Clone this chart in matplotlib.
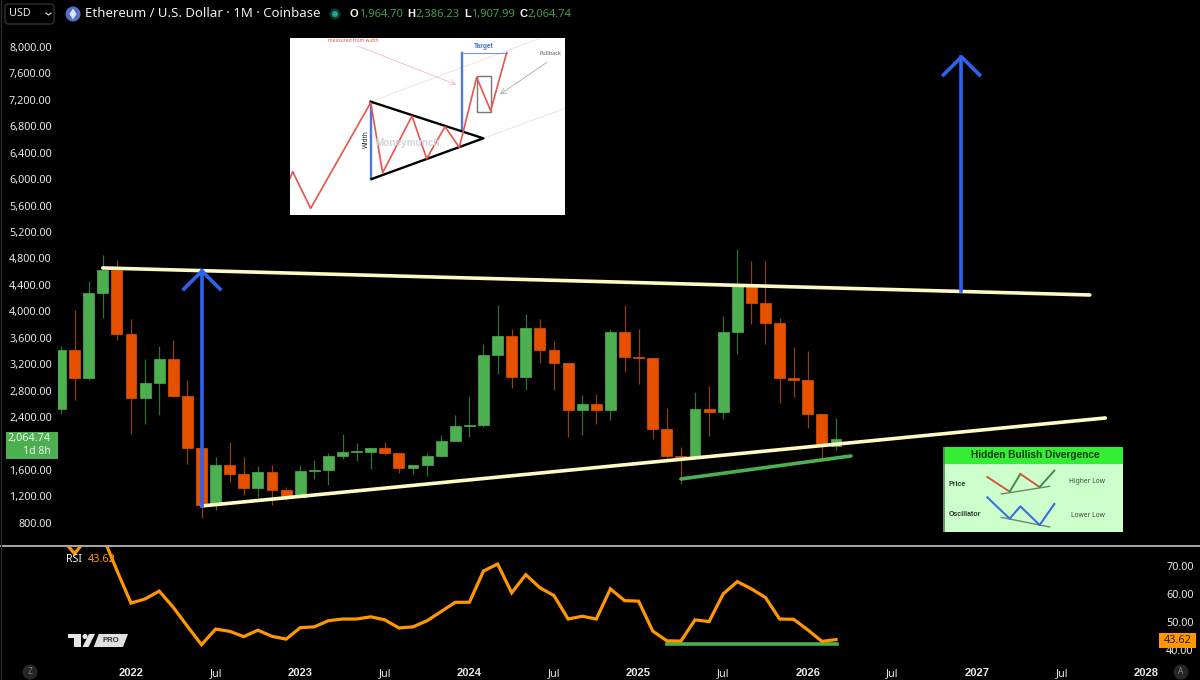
#!/usr/bin/env python3
# -*- coding: utf-8 -*-
import numpy as np
import matplotlib
matplotlib.use("Agg")
import matplotlib.pyplot as plt
from matplotlib.patches import Rectangle, Polygon, Circle, FancyBboxPatch

plt.rcParams['font.family'] = ['Noto Sans', 'DejaVu Sans']

# monthly candles, month 0 = Jan 2022
first_month = -5
opens = [2525, 3423, 2994, 4280, 4624,
         3665, 2682, 2919, 3277, 2717, 1930, 1067, 1683, 1546, 1320, 1567, 1294,
         1188, 1582, 1607, 1810, 1870, 1870, 1930, 1850, 1637, 1668, 1809, 2046,
         2273, 2278, 3337, 3630, 3005, 3746, 3423, 3221, 2505, 2596, 2505, 3695,
         3312, 3292, 2222, 1809, 1789, 2525, 2475, 3685, 4381, 4134, 3826, 2989,
         2959, 2444, 1964.70]
closes = [3423, 2994, 4280, 4624, 3665,
          2682, 2919, 3277, 2717, 1930, 1067, 1683, 1546, 1320, 1567, 1294, 1188,
          1582, 1607, 1819, 1870, 1880, 1930, 1850, 1637, 1668, 1809, 2046, 2273,
          2278, 3337, 3630, 3005, 3746, 3423, 3221, 2505, 2596, 2505, 3695, 3312,
          3292, 2222, 1809, 1789, 2525, 2475, 3685, 4381, 4134, 3826, 2989, 2959,
          2444, 1960, 2064.74]
highs = [3473, 4018, 4452, 4855, 4775,
         3887, 3277, 3473, 3574, 2969, 1930, 1789, 2031, 1789, 1657, 1673, 1345,
         1683, 1748, 1859, 2142, 2015, 1930, 2031, 1850, 1668, 1859, 2127, 2439,
         2717, 3504, 4089, 3726, 3958, 3877, 3554, 3221, 2732, 2757, 3726, 4099,
         3736, 3292, 2535, 1950, 2787, 2878, 3927, 4936, 4765, 4755, 3907, 3463,
         3398, 2444, 2386.23]
lows = [2444, 2656, 2969, 3907, 3564,
        2152, 2303, 2439, 2700, 1698, 881, 1002, 1425, 1219, 1193, 1067, 1153,
        1188, 1470, 1370, 1760, 1733, 1622, 1825, 1547, 1537, 1516, 1789, 2046,
        2101, 2243, 3045, 2838, 2808, 3226, 2808, 2101, 2132, 2303, 2354, 3090,
        2908, 2071, 1780, 1395, 1770, 2112, 2374, 3352, 3816, 3504, 2616, 2707,
        2228, 1773, 1907.99]

rsi = [80.4, 74.4, 80.8, 80.7, 68.4,
       56.7, 58.2, 61.0, 55.2, 48.4, 41.8, 47.4, 46.6, 44.7, 47.0, 44.8, 43.8,
       47.9, 48.2, 50.4, 51.0, 51.0, 51.8, 50.7, 47.8, 48.2, 50.4, 53.7, 57.0,
       57.0, 68.2, 70.7, 60.4, 66.9, 62.2, 59.4, 51.0, 52.0, 51.0, 61.8, 57.6,
       57.4, 46.7, 43.2, 43.1, 50.7, 50.1, 60.0, 64.4, 61.8, 58.7, 51.0, 50.9,
       47.1, 43.0, 43.62]

price_ticks = [800, 1200, 1600, 2400, 2800, 3200, 3600, 4000, 4400, 4800, 5200,
               5600, 6000, 6400, 6800, 7200, 7600, 8000]
rsi_ticks = [40, 50, 60, 70]
time_ticks = [0, 6, 12, 18, 24, 30, 36, 42, 48, 54, 60, 66, 72]
time_labels = ['2022', 'Jul', '2023', 'Jul', '2024', 'Jul', '2025', 'Jul', '2026',
               'Jul', '2027', 'Jul', '2028']

# drawings on the chart
upper_x = [-2, 68]
upper_price = [4657, 4248]
lower_x = [5.03, 69.1]
lower_price = [1056, 2387]
support_x = [39, 51.06]
support_price = [1464, 1812]
arrow1_x = 5.03
arrow1_price = [1056, 4610]
arrow2_x = 58.9
arrow2_price = [4310, 7850]
rsi_line_x = [38, 50.1]
rsi_line_val = [42.2, 42.2]

# pattern sketch inset (in its own pixel grid)
zig_x = [30, 38, 92, 272, 308, 396, 440, 495, 538, 590, 632, 680]
zig_y = [445, 425, 535, 218, 428, 258, 386, 290, 352, 142, 242, 68]

# hidden divergence inset
price_x = [173, 240, 272, 330, 374]
price_y = [112, 156, 103, 142, 93]
osc_x = [173, 240, 272, 330, 374]
osc_y = [173, 237, 200, 256, 193]

GREEN = '#4CAF50'
ORANGE = '#E65100'
GREEN_WICK = '#2F6F33'
ORANGE_WICK = '#8F3F0C'
CREAM = '#FFF9C4'
BLUE = '#2F62EE'
RSI_COL = '#FF9800'
TXT = '#E8E8E8'
BOLD = 'Liberation Sans'

W, H = 1200, 680
fig = plt.figure(figsize=(12, 6.8), dpi=100, facecolor='black')


def px_axes(x0, y0, x1, y1, **kw):
    return fig.add_axes([x0 / W, 1 - y1 / H, (x1 - x0) / W, (y1 - y0) / H], **kw)


def x_limits(left, right):
    return (left - 131) / 14.1, (right - 131) / 14.1


# price pane
ax = px_axes(58, 30, 1155, 546, facecolor='black')
ax.set_xlim(x_limits(58, 1155))
ax.set_ylim(450, 8257)
months = np.arange(len(opens)) + first_month
o = np.array(opens)
c = np.array(closes)
up = c >= o
ax.vlines(months[up], np.array(lows)[up], np.array(highs)[up], color=GREEN_WICK, lw=0.9, zorder=2)
ax.vlines(months[~up], np.array(lows)[~up], np.array(highs)[~up], color=ORANGE_WICK, lw=0.9, zorder=2)
ax.bar(months[up], (c - o)[up], bottom=o[up], width=0.78, color=GREEN, edgecolor=GREEN, lw=0.5, zorder=3)
ax.bar(months[~up], (c - o)[~up], bottom=o[~up], width=0.78, color=ORANGE, edgecolor=ORANGE, lw=0.5, zorder=3)

ax.plot(upper_x, upper_price, color=CREAM, lw=2.6, zorder=4, solid_capstyle='round')
ax.plot(lower_x, lower_price, color=CREAM, lw=2.6, zorder=4, solid_capstyle='round')
ax.plot(support_x, support_price, color=GREEN, lw=2.6, zorder=4, solid_capstyle='round')

for ax_x, ax_p in [(arrow1_x, arrow1_price), (arrow2_x, arrow2_price)]:
    ax.plot([ax_x, ax_x], ax_p, color=BLUE, lw=2.6, zorder=5)
    ax.plot([ax_x - 1.28, ax_x, ax_x + 1.28], [ax_p[1] - 272, ax_p[1], ax_p[1] - 272],
            color=BLUE, lw=2.6, zorder=5)

ax.set_yticks(price_ticks)
ax.set_yticklabels([f'{v:,.2f}' for v in price_ticks])
ax.tick_params(axis='y', length=0, pad=4.5, labelsize=7.8, labelcolor=TXT)
ax.set_xticks([])
for s in ax.spines.values():
    s.set_visible(False)

# rsi pane
ax2 = px_axes(58, 547, 1155, 657, facecolor='black')
ax2.set_xlim(x_limits(58, 1155))
ax2.set_ylim(37.4, 76.8)
ax2.plot(rsi_line_x, rsi_line_val, color=GREEN, lw=2.6, zorder=2)
ax2.plot(months, rsi, color=RSI_COL, lw=2.3, zorder=3, solid_joinstyle='miter')
ax2.set_yticks(rsi_ticks)
ax2.set_yticklabels([f'{v:.2f}' for v in rsi_ticks])
ax2.yaxis.tick_right()
ax2.tick_params(axis='y', length=0, pad=8, labelsize=7.8, labelcolor=TXT)
ax2.set_xticks(time_ticks)
ax2.set_xticklabels(time_labels)
ax2.tick_params(axis='x', length=0, pad=8, labelsize=7.8, labelcolor=TXT)
for lab in ax2.get_xticklabels():
    if lab.get_text() != 'Jul':
        lab.set_fontfamily(BOLD)
        lab.set_fontweight('bold')
        lab.set_fontsize(8)
for s in ax2.spines.values():
    s.set_visible(False)

# sketch inset
ins = px_axes(290, 38, 565, 215)
ins.set_xlim(30, 855)
ins.set_ylim(555, 24)
ins.set_xticks([])
ins.set_yticks([])
ins.set_facecolor('white')
for s in ins.spines.values():
    s.set_visible(False)
ins.plot([272, 780], [215, 25], color='#F6E4E4', lw=0.8)
ins.plot([610, 855], [325, 235], color='#E8E8E8', lw=0.8)
ins.text(384, 340, 'Moneymunch', color='#CFD5DE', fontsize=7.2, family=BOLD, fontweight='bold', ha='center', va='center')
ins.plot([272, 272], [215, 447], color='#4A78E8', lw=1.7)
ins.plot([547, 547], [68, 300], color='#4A78E8', lw=1.7)
ins.plot([547, 680], [68, 68], color='#6C90E8', lw=0.7)
ins.add_patch(Rectangle((590, 138), 42, 107, fill=False, ec='#777777', lw=1))
ins.plot([272, 610, 275], [215, 325, 447], color='black', lw=1.7)
ins.plot(zig_x, zig_y, color='#E8534A', lw=1.2)
ins.annotate('', xy=(537, 167), xytext=(225, 45), arrowprops=dict(arrowstyle='->', color='#F4B9B9', lw=0.6))
ins.annotate('', xy=(653, 198), xytext=(808, 92), arrowprops=dict(arrowstyle='->', color='#AAAAAA', lw=0.6))
ins.text(220, 31, 'measured from width', color='#E8534A', fontsize=3.6, ha='center', va='center')
ins.text(613, 50, 'Target', color='#3F6FE0', fontsize=4.8, family=BOLD, fontweight='bold', ha='center', va='center')
ins.text(810, 71, 'Pullback', color='#555555', fontsize=4, ha='center', va='center')
ins.text(258, 328, 'Width', color='#222222', fontsize=4.6, rotation=90, ha='center', va='center')

# divergence inset
div = px_axes(943, 447, 1123, 532)
div.set_xlim(40, 580)
div.set_ylim(277, 22)
div.set_xticks([])
div.set_yticks([])
div.set_facecolor('#CCFFCC')
for s in div.spines.values():
    s.set_visible(False)
div.add_patch(Rectangle((40, 22), 540, 52, fc='#33EE33', ec='none'))
div.plot([42, 42], [22, 277], color='#5C7C5C', lw=1.2)
div.text(318, 47, 'Hidden Bullish Divergence', color='#0A3A0A', fontsize=7.3, family=BOLD, fontweight='bold', ha='center', va='center')
div.plot([215, 360], [163, 140], color='#6A8A6A', lw=1)
div.plot([215, 360], [233, 262], color='#6A8A6A', lw=1)
for i in range(len(price_x) - 1):
    col = '#D9553F' if i % 2 == 0 else '#3E8E45'
    div.plot(price_x[i:i + 2], price_y[i:i + 2], color=col, lw=1.4)
div.plot(osc_x, osc_y, color='#3C6FE0', lw=1.5)
div.text(56, 133, 'Price', color='#2A3A2A', fontsize=5, family=BOLD, fontweight='bold', va='center')
div.text(56, 225, 'Oscillator', color='#2A3A2A', fontsize=5, family=BOLD, fontweight='bold', va='center')
div.text(472, 125, 'Higher Low', color='#3A4A3A', fontsize=4.8, ha='center', va='center')
div.text(474, 228, 'Lower Low', color='#3A4A3A', fontsize=4.8, ha='center', va='center')

# chrome drawn in pixel coordinates over everything
top = fig.add_axes([0, 0, 1, 1], facecolor='none', zorder=10)
top.set_xlim(0, W)
top.set_ylim(H, 0)
top.axis('off')
top.plot([0, 1200], [546, 546], color='#D8D8D8', lw=1.1)
top.plot([0.5, 0.5], [0, 680], color='#2A2A2A', lw=1)

top.add_patch(FancyBboxPatch((5, 4), 49, 20, boxstyle='round,pad=0,rounding_size=3', fc='black', ec='#3A3A3A', lw=0.8))
top.text(9, 14, 'USD', color=TXT, fontsize=7.8, va='center')
top.plot([46, 48.5, 51], [13, 15, 13], color=TXT, lw=0.8)
top.add_patch(Circle((73, 14), 7.5, fc='#5570C8', ec='none'))
top.add_patch(Polygon([[73, 8.5], [76.5, 14], [73, 19.5], [69.5, 14]], fc='#DDE4FA', ec='none'))
top.text(85, 13.5, 'Ethereum / U.S. Dollar · 1M · Coinbase', color='#F0F0F0', fontsize=9.5, va='center')
top.add_patch(Circle((335, 14), 5.5, fc='#0B3A33', ec='none'))
top.add_patch(Circle((335, 14), 3, fc='#1FA38A', ec='none'))
for letter_x, value_x, letter, value in [(349, 359, 'O', '1,964.70'), (407, 415, 'H', '2,386.23'),
                                         (464, 471, 'L', '1,907.99'), (519, 527, 'C', '2,064.74')]:
    top.text(letter_x, 14, letter, color='#F4F4F4', fontsize=8, family=BOLD, fontweight='bold', va='center')
    top.text(value_x, 14, value, color='#449E48', fontsize=8, va='center')

top.add_patch(Rectangle((6, 432), 51.5, 27, fc=GREEN, ec='none'))
top.text(51, 439, '2,064.74', color='#EAF6EA', fontsize=7.8, ha='right', va='center')
top.text(51, 451.5, '1d 8h', color='#EAF6EA', fontsize=7.6, ha='right', va='center')

top.add_patch(Rectangle((1159, 633), 37, 15, fc=RSI_COL, ec='none'))
top.text(1177.5, 640.5, '43.62', color='#2A1A00', fontsize=7.8, ha='center', va='center')
top.text(66, 560, 'RSI', color='#F4F4F4', fontsize=7.6, va='center')
top.text(88, 560, '43.62', color=RSI_COL, fontsize=7.8, va='center')

top.add_patch(Polygon([[68, 634], [81, 634], [81, 647], [73.5, 647], [73.5, 638], [68, 638]], fc='#E6E6E6', ec='none'))
top.add_patch(Circle((85, 636.5), 2.5, fc='#E6E6E6', ec='none'))
top.add_patch(Polygon([[89, 634], [95, 634], [88.5, 647], [82.5, 647]], fc='#E6E6E6', ec='none'))
top.add_patch(Polygon([[98.7, 634], [128, 634], [123, 647], [93.8, 647]], fc='#E0E0E0', ec='none'))
top.text(111, 640.5, 'PRO', color='#333333', fontsize=5.6, family=BOLD, fontweight='bold', ha='center', va='center')

top.add_patch(Circle((30, 672), 7.5, fc='#262626', ec='none'))
top.text(30, 672, 'Z', color='#777777', fontsize=6, ha='center', va='center')
top.add_patch(Circle((1181, 672), 7.5, fc='#262626', ec='none'))
top.text(1181, 672, 'A', color='#888888', fontsize=6, ha='center', va='center')

fig.savefig('out.png', dpi=100, facecolor='black')
